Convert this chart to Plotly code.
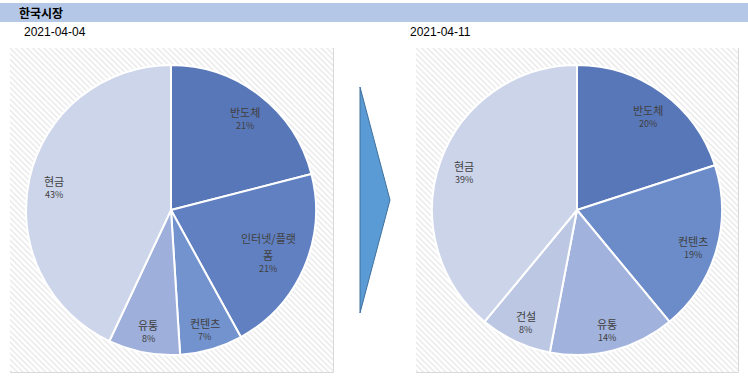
import math
import plotly.graph_objects as go

title = "한국시장"
dates = ["2021-04-04", "2021-04-11"]

labels_1 = ["반도체", "인터넷/플랫<br>폼", "컨텐츠", "유통", "현금"]
values_1 = [21, 21, 7, 8, 43]
colors_1 = ["#5877b8", "#6080c1", "#7393ce", "#9dafda", "#cdd5ea"]

labels_2 = ["반도체", "컨텐츠", "유통", "건설", "현금"]
values_2 = [20, 19, 14, 8, 39]
colors_2 = ["#5877b8", "#6b8cc9", "#a1b2dd", "#bcc7e4", "#ccd4ea"]

W, H = 748, 384
FONT = "Noto Sans CJK KR"

def px(x):
    return x / W

def py(y):
    return 1 - y / H

fig = go.Figure()

# hatched background boxes via bar traces with patterns
boxes = [(10, 48, 334, 373), (416, 48, 739, 373)]
for i, (x0, y0, x1, y1) in enumerate(boxes):
    xa = "x" if i == 0 else "x2"
    ya = "y" if i == 0 else "y2"
    fig.add_trace(go.Bar(
        x=[0], y=[1], width=[1], xaxis=xa, yaxis=ya,
        marker=dict(color="white", line=dict(color="#d9d9d9", width=1),
                    pattern=dict(shape="\\", fgcolor="#cccccc", bgcolor="white",
                                 size=4, solidity=0.3)),
        hoverinfo="skip", showlegend=False))
    layout_ax = dict(domain=[px(x0), px(x1)], range=[-0.5, 0.5], visible=False, fixedrange=True)
    layout_ay = dict(domain=[py(y1), py(y0)], range=[0, 1], visible=False, fixedrange=True)
    if i == 0:
        fig.update_layout(xaxis=dict(layout_ax, anchor="y"), yaxis=dict(layout_ay, anchor="x"))
    else:
        fig.update_layout(xaxis2=dict(layout_ax, anchor="y2"), yaxis2=dict(layout_ay, anchor="x2"))

annotations = []

def add_pie(labels, values, colors, cx, cy, r):
    fig.add_trace(go.Pie(
        labels=[l.replace("<br>", "") for l in labels], values=values, sort=False,
        direction="clockwise", rotation=0,
        marker=dict(colors=colors, line=dict(color="white", width=2)),
        textinfo="none",
        domain=dict(x=[px(cx - r), px(cx + r)], y=[py(cy + r), py(cy - r)]),
        showlegend=False, hoverinfo="label+percent"))
    total = sum(values)
    cum = 0
    for lab, v in zip(labels, values):
        mid = (cum + v / 2) / total * 2 * math.pi
        cum += v
        lines = lab.split("<br>")
        rl = (0.83 - 0.1 * (len(lines) - 1)) * r
        lx = cx + rl * math.sin(mid)
        ly = cy - rl * math.cos(mid) + 4 + 6 * (len(lines) - 1)
        for k, line in enumerate(reversed(lines)):
            annotations.append(dict(
                text=line, x=px(lx), y=py(ly), xref="paper", yref="paper",
                xanchor="center", yanchor="bottom", yshift=-3 + 17 * k, showarrow=False,
                font=dict(family=FONT, size=11, color="#404040")))
        annotations.append(dict(
            text=f"{round(v / total * 100)}%", x=px(lx), y=py(ly), xref="paper", yref="paper",
            xanchor="center", yanchor="top", yshift=2, showarrow=False,
            font=dict(family=FONT, size=9, color="#404040")))

add_pie(labels_1, values_1, colors_1, 171, 210, 145)
add_pie(labels_2, values_2, colors_2, 577, 210, 145)

shapes = [
    dict(type="rect", xref="paper", yref="paper", x0=0, x1=1, y0=py(22), y1=py(3),
         fillcolor="#b4c7e7", line=dict(width=0), layer="below"),
    dict(type="path", xref="paper", yref="paper",
         path=f"M {px(360)} {py(87)} L {px(390)} {py(200)} L {px(360)} {py(313)} Z",
         fillcolor="#5b9bd5", line=dict(color="#41719c", width=1)),
]

annotations += [
    dict(text=f"<b>{title}</b>", x=px(17), y=py(12), xref="paper", yref="paper",
         xanchor="left", yanchor="middle", showarrow=False,
         font=dict(family=FONT, size=12, color="#000000")),
    dict(text=dates[0], x=px(22), y=py(32), xref="paper", yref="paper",
         xanchor="left", yanchor="middle", showarrow=False,
         font=dict(family="Liberation Sans", size=12, color="#000000")),
    dict(text=dates[1], x=px(408), y=py(32), xref="paper", yref="paper",
         xanchor="left", yanchor="middle", showarrow=False,
         font=dict(family="Liberation Sans", size=12, color="#000000")),
]

fig.update_layout(
    width=W, height=H, margin=dict(l=0, r=0, t=0, b=0),
    paper_bgcolor="white", plot_bgcolor="white",
    shapes=shapes, annotations=annotations, bargap=0,
    font=dict(family=FONT),
)

fig.write_html("out.html", config={"displayModeBar": False},
               post_script="document.body.style.margin='0';")
